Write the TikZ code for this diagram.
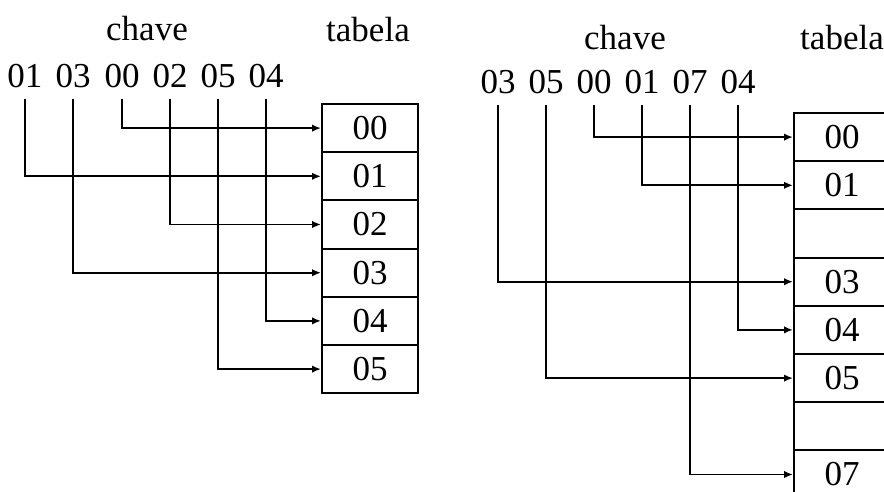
\documentclass[tikz,border=0pt]{standalone}
\usepackage{fontspec}
\setmainfont{Liberation Serif}
\usetikzlibrary{arrows.meta}

\tikzset{
    TEXT/.style={inner sep=0pt, font={\fontsize{35}{42}\selectfont}},
    KEY/.style={TEXT, inner ysep=10.5pt},
    CELL/.style={draw=black, shape=rectangle, line width=2pt,
        minimum width=96pt, minimum height=48.2pt, inner sep=0pt,
        font={\fontsize{35}{42}\selectfont}},
    ARROW/.style={draw=black, line width=1.9pt, -{Latex[length=9pt,width=7.5pt]}}
}
\pgfdeclarelayer{edgelayer}
\pgfdeclarelayer{nodelayer}
\pgfsetlayers{edgelayer,nodelayer,main}

\begin{document}
\begin{tikzpicture}[x=1pt, y=-1pt]
    \path[use as bounding box, clip] (0,0) rectangle (884,491);
    \begin{pgfonlayer}{nodelayer}
        % left: keys and table
        \node [TEXT] (1) at (147, 28.5) {chave};
        \node [TEXT] (2) at (368, 29.5) {tabela};
        \node [KEY] (3) at (25, 76) {01};
        \node [KEY] (4) at (73, 76) {03};
        \node [KEY] (5) at (122, 76) {00};
        \node [KEY] (6) at (170, 76) {02};
        \node [KEY] (7) at (218, 76) {05};
        \node [KEY] (8) at (266, 76) {04};
        \node [CELL] (9) at (370, 128.1) {00};
        \node [CELL] (10) at (370, 176.3) {01};
        \node [CELL] (11) at (370, 224.5) {02};
        \node [CELL] (12) at (370, 272.7) {03};
        \node [CELL] (13) at (370, 320.9) {04};
        \node [CELL] (14) at (370, 369.1) {05};
        % right: keys and table with gaps
        \node [TEXT] (15) at (625, 37.5) {chave};
        \node [TEXT] (16) at (842, 38) {tabela};
        \node [KEY] (17) at (498, 82.5) {03};
        \node [KEY] (18) at (546, 82.5) {05};
        \node [KEY] (19) at (594, 82.5) {00};
        \node [KEY] (20) at (642, 82.5) {01};
        \node [KEY] (21) at (690, 82.5) {07};
        \node [KEY] (22) at (738, 82.5) {04};
        \node [CELL] (23) at (842, 137.1) {00};
        \node [CELL] (24) at (842, 185.3) {01};
        \node [CELL] (25) at (842, 233.5) {};
        \node [CELL] (26) at (842, 281.7) {03};
        \node [CELL] (27) at (842, 329.9) {04};
        \node [CELL] (28) at (842, 378.1) {05};
        \node [CELL] (29) at (842, 426.3) {};
        \node [CELL] (30) at (842, 474.5) {07};
    \end{pgfonlayer}
    \begin{pgfonlayer}{edgelayer}
        \draw[ARROW] (3.south) |- (10.west);
        \draw[ARROW] (4.south) |- (12.west);
        \draw[ARROW] (5.south) |- (9.west);
        \draw[ARROW] (6.south) |- (11.west);
        \draw[ARROW] (7.south) |- (14.west);
        \draw[ARROW] (8.south) |- (13.west);
        \draw[ARROW] (17.south) |- (26.west);
        \draw[ARROW] (18.south) |- (28.west);
        \draw[ARROW] (19.south) |- (23.west);
        \draw[ARROW] (20.south) |- (24.west);
        \draw[ARROW] (21.south) |- (30.west);
        \draw[ARROW] (22.south) |- (27.west);
    \end{pgfonlayer}
\end{tikzpicture}
\end{document}
